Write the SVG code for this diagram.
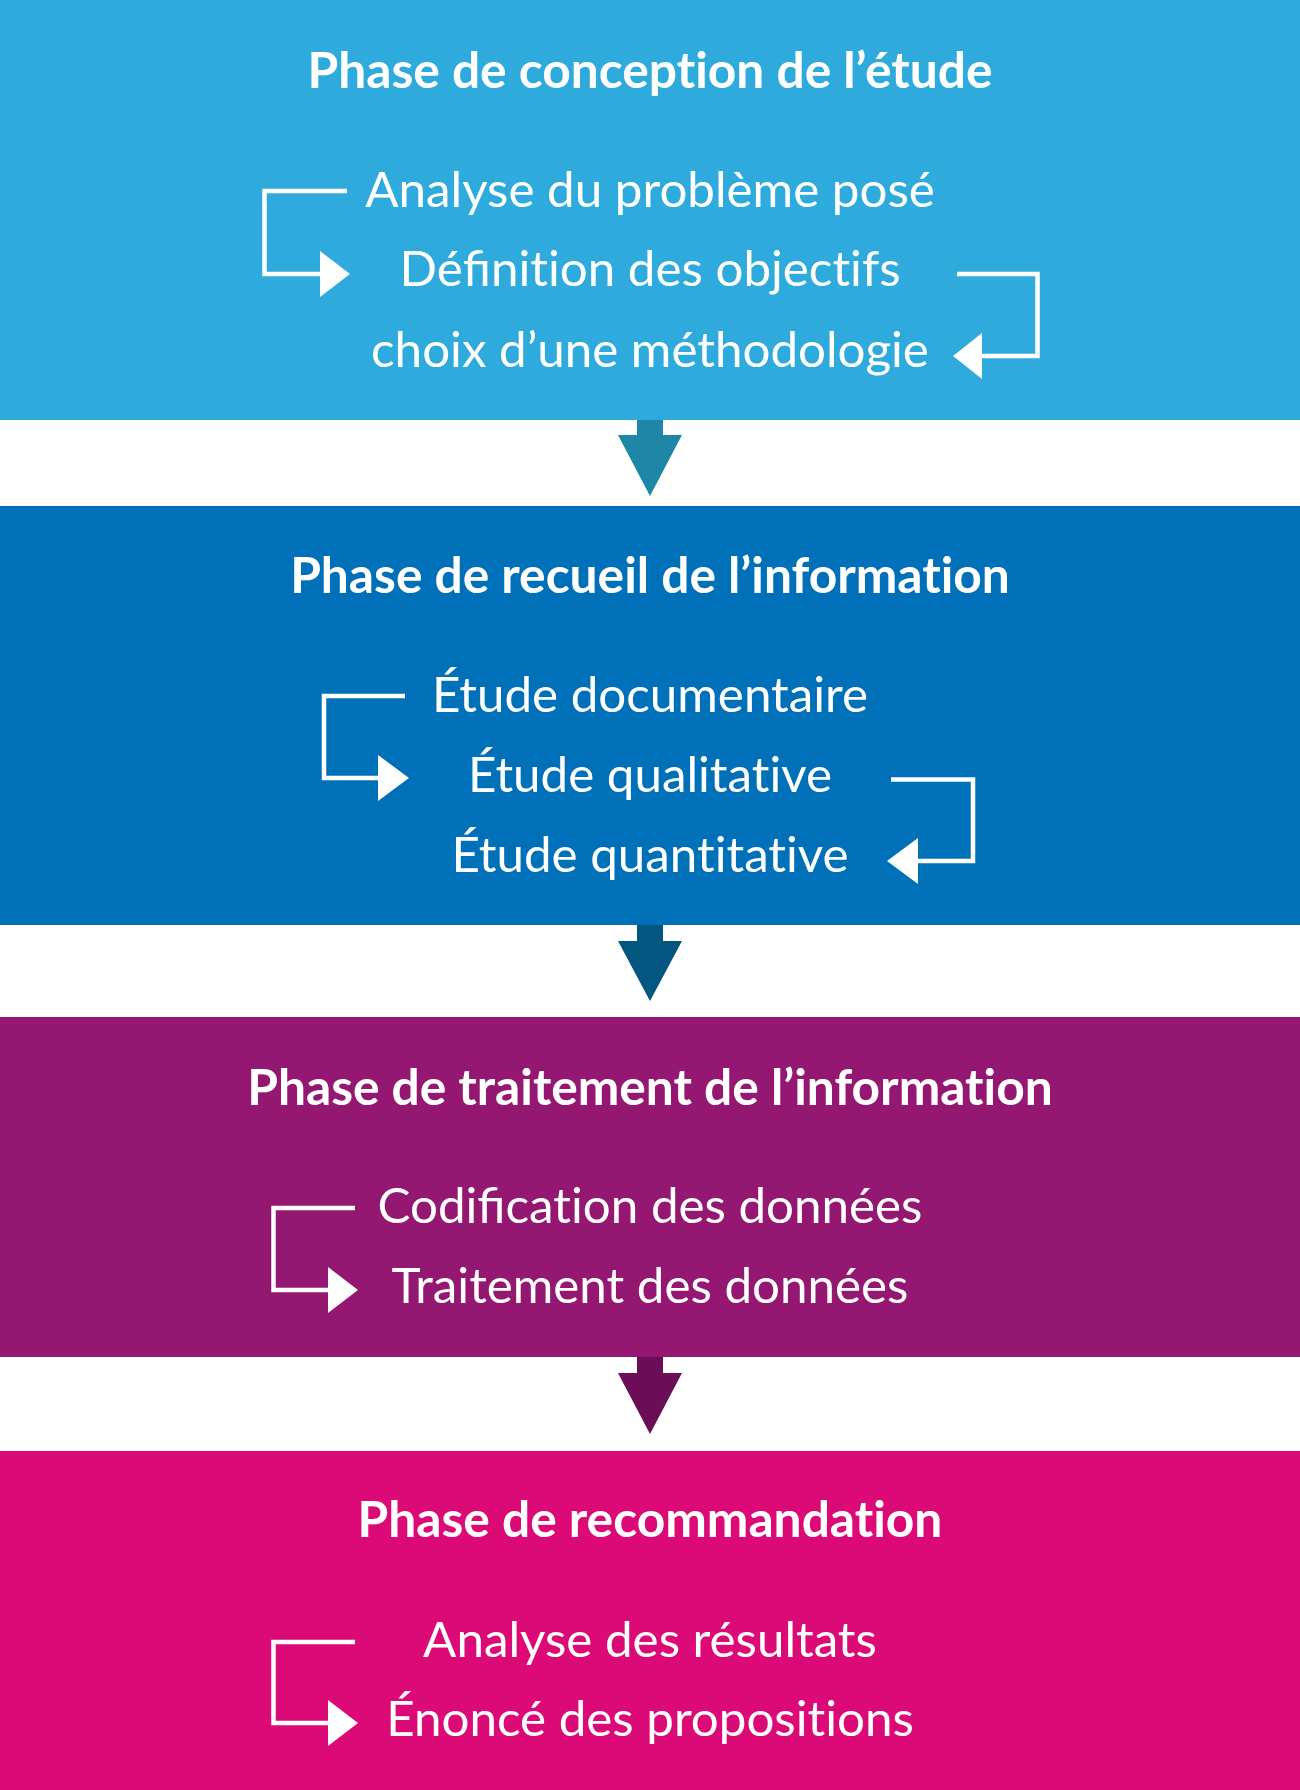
<svg xmlns="http://www.w3.org/2000/svg" width="1300" height="1790" viewBox="0 0 1300 1790">
<style>
.title{font-family:Lato,"Liberation Sans",sans-serif;font-weight:bold;font-size:49.7px;fill:#fff;text-anchor:middle;font-variant-ligatures:none}
.item{font-family:Lato,"Liberation Sans",sans-serif;font-size:49.3px;fill:#fff;text-anchor:middle;font-variant-ligatures:none}
.lig{font-variant-ligatures:common-ligatures}
.br{fill:none;stroke:#fff;stroke-width:4.5}
.head{fill:#fff}
</style>
<rect width="1300" height="1790" fill="#fff"/>
<g id="phase1">
<rect x="0" y="0" width="1300" height="420" fill="#2eabdc"/>
<text class="title" x="650" y="88">Phase de conception de l’étude</text>
<text class="item" x="650" y="207">Analyse du problème posé</text>
<text class="item" x="650" y="286">Dé<tspan class="lig">fi</tspan>nition des objectifs</text>
<text class="item" x="650" y="367">choix d’une méthodologie</text>
<path class="br" d="M347 191H264.5V274H322"/>
<polygon class="head" points="320,251 350,274 320,297"/>
<path class="br" d="M957 274H1037.5V356H980"/>
<polygon class="head" points="982,333 953,356 982,379"/>
</g>
<g id="phase2">
<rect x="0" y="506" width="1300" height="419" fill="#0070b9"/>
<text class="title" x="650" y="593">Phase de recueil de l’information</text>
<text class="item" x="650" y="712">Étude documentaire</text>
<text class="item" x="650" y="792">Étude qualitative</text>
<text class="item" x="650" y="872">Étude quantitative</text>
<path class="br" d="M405 696H324V778H380"/>
<polygon class="head" points="378,755 409,778 378,801"/>
<path class="br" d="M891 779.5H973V861H916"/>
<polygon class="head" points="918,838 887,861 918,884"/>
</g>
<g id="phase3">
<rect x="0" y="1017" width="1300" height="340" fill="#941872"/>
<text class="title" x="650" y="1105">Phase de traitement de l’information</text>
<text class="item" x="650" y="1223">Codi<tspan class="lig">fi</tspan>cation des données</text>
<text class="item" x="650" y="1303">Traitement des données</text>
<path class="br" d="M355 1208H273.5V1290H330"/>
<polygon class="head" points="328,1267 358,1290 328,1313"/>
</g>
<g id="phase4">
<rect x="0" y="1451" width="1300" height="339" fill="#dc0a76"/>
<text class="title" x="650" y="1537">Phase de recommandation</text>
<text class="item" x="650" y="1657">Analyse des résultats</text>
<text class="item" x="650" y="1736">Énoncé des propositions</text>
<path class="br" d="M355 1642H273.5V1723H330"/>
<polygon class="head" points="328,1700 358,1723 328,1746"/>
</g>
<g id="connectors">
<polygon fill="#1e87a8" points="637,420 663,420 663,435 682,435 650,496 618,435 637,435"/>
<polygon fill="#03567f" points="637,925 663,925 663,941 682,941 650,1001 618,941 637,941"/>
<polygon fill="#6b0e57" points="637,1357 663,1357 663,1373 682,1373 650,1434 618,1373 637,1373"/>
</g>
</svg>
